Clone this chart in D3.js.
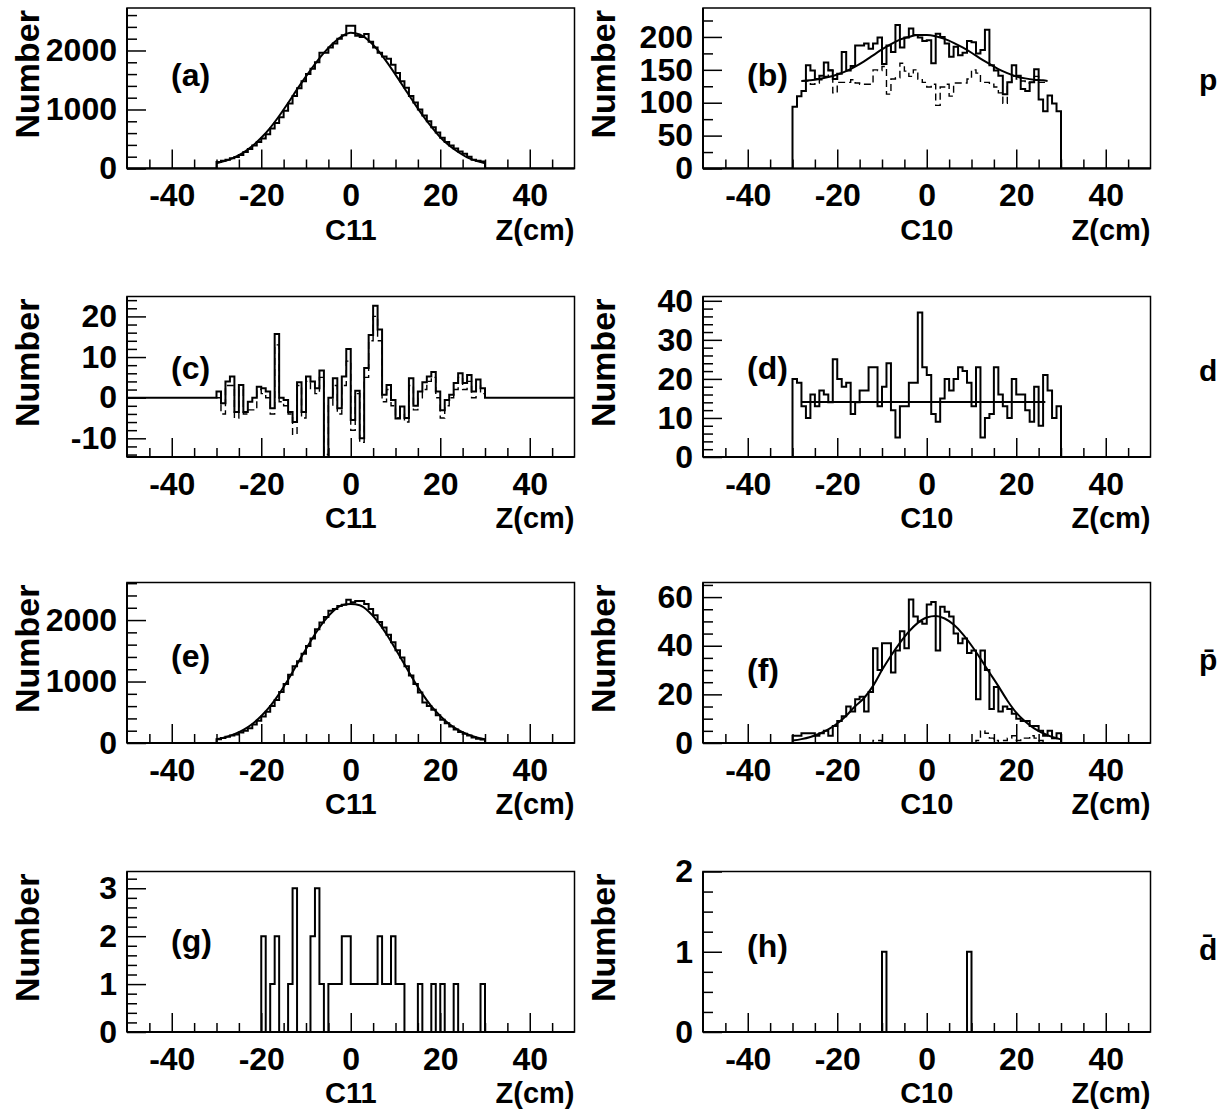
<!DOCTYPE html>
<html><head><meta charset="utf-8">
<script src="https://cdn.jsdelivr.net/npm/d3@7/dist/d3.min.js"></script>
<style>html,body{margin:0;padding:0;background:#fff;} svg{display:block;}</style>
</head><body>
<svg id="chart" width="1223" height="1118"></svg>
<script>
// ---------------- data ----------------
const zDomain = [-50, 50];
const xTickLabels = [-40, -20, 0, 20, 40];
const xMinorStep = 5;
const detectorNames = ["C11", "C10"];
const axisUnit = "Z(cm)";
const yTitle = "Number";
const particleNames = ["p", "d", "p\u0304", "d\u0304"];
const panelLabels = ["(a)", "(b)", "(c)", "(d)", "(e)", "(f)", "(g)", "(h)"];

// (a) C11, p
const aYRange = [0, 2720];
const aYTicks = [0, 1000, 2000];
const aYMinor = 200;
const aLo = -30;
const aCounts = [110,130,150,175,195,230,280,330,390,450, 510,580,680,770,870,980,1100,1230,1360,1480,
  1600,1690,1800,1960,1960,2050,2120,2200,2260,2420, 2420,2250,2230,2280,2150,2050,1960,1900,1860,1760,
  1620,1480,1370,1230,1120,1000,900,800,700,610, 520,450,390,340,290,250,200,150,130,120];
const aFitZ = [-30,-28,-26,-24,-22,-20,-18,-16,-14,-12,-10,-8,-6,-4,-2,0,2,4,6,8,10,12,14,16,18,20,22,24,26,28,30];
const aFitV = [90,130,190,270,380,520,690,890,1110,1340,1560,1770,1960,2120,2240,2300,2270,2170,2010,1810,1590,1360,1130,910,710,530,390,280,190,130,90];

// (b) C10, p
const bYRange = [0, 244];
const bYTicks = [0, 50, 100, 150, 200];
const bYMinor = 25;
const bLo = -30;
const bCounts = [94,110,118,157,149,136,141,161,149,136, 144,177,149,156,187,187,190,182,190,199,
  159,187,177,218,184,199,213,203,199,194, 195,160,205,200,190,170,185,172,176,194,
  192,175,180,211,157,149,141,113,131,157, 141,121,118,131,151,105,87,111,99,87];
const bDashLo = -28;
const bDashed = [133,133,128,130,135,140,150,115,131,131, 131,135,130,128,128,128,150,149,155,113,
  136,138,160,148,140,150,136,131,124,128, 96,124,128,110,130,130,130,136,150,145,
  131,131,128,124,115,99,131,140,136,133, 130,131,140,131,131];
const bFitZ = [-28,-26,-24,-22,-20,-18,-16,-14,-12,-10,-8,-6,-4,-2,0,2,4,6,8,10,12,14,16,18,20,22,24,26,27];
const bFitV = [133,134,136,139,143,148,155,163,172,181,189,196,200,203,203,201,197,191,184,176,167,159,151,145,140,137,135,134,133];

// (c) C11, d
const cYRange = [-14.6, 24.9];
const cYTicks = [-10, 0, 10, 20];
const cYMinor = 2;
const cLo = -30;
const cCounts = [1.5,-1.4,4,5.2,-3.5,3.1,-3.5,-1,0,2.7, 2.3,1.5,-2.6,15.7,0,-0.6,-3.5,-6,3.8,-3.5,
  5.2,4,2.3,6.7,-17,0,4.8,-2.6,5.2,12, -5.5,1.7,-10,7.3,15.4,22.6,16.8,0.7,3.1,-0.6,
  -5.1,-2.2,-5,4.8,-2,1.5,3.8,5.2,6.3,1.5, -3.1,-0.6,0.7,3.6,6,3.6,5.6,1.5,4.5,2.3];
const cDashLo = -30;
const cDashed = [0,-4,3,3,-5,2,-4,-3,-3,2, 1,0,-4,13,-1,-2,-4,-9,3,-5,
  4,2,1,5,-14,-2,3,-4,3,9, -8,1,-11,5,14,20,14,-1,2,-2,
  -5,-4,-6,3,-3,0,2,4,5,0, -5,-2,0,2,5,2,4,0,3,1];

// (d) C10, d
const dYRange = [0, 41.1];
const dYTicks = [0, 10, 20, 30, 40];
const dYMinor = 2;
const dLo = -30;
const dCounts = [20,19,13,10,16,13,17,16,14,25, 20,18,19,11,14,17,17,23,23,13,
  18,24,12,5,13,13,19,19,37,23, 21,11,9,15,20,17,20,23,22,19,
  13,23,5,10,11,23,16,13,10,20, 16,16,12,9,18,8,21,17,10,13];
const dFitZ = [-28, 26.5];
const dFitV = [14.1, 14.1];

// (e) C11, pbar
const eYRange = [0, 2611];
const eYTicks = [0, 1000, 2000];
const eYMinor = 200;
const eLo = -30;
const eCounts = [60,80,100,120,140,170,200,240,300,360, 430,510,600,700,830,960,1110,1250,1330,1450,
  1580,1700,1850,1960,2050,2150,2180,2230,2250,2330, 2290,2310,2310,2260,2180,2080,1970,1880,1760,1640,
  1510,1390,1250,1100,960,820,660,600,540,450, 380,320,270,220,180,150,120,90,70,55];
const eFitZ = [-30,-28,-26,-24,-22,-20,-18,-16,-14,-12,-10,-8,-6,-4,-2,0,2,4,6,8,10,12,14,16,18,20,22,24,26,28,30];
const eFitV = [60,95,145,215,310,440,600,800,1030,1280,1530,1770,1980,2140,2240,2260,2240,2140,1980,1770,1530,1280,1030,800,600,440,310,215,145,95,60];

// (f) C10, pbar
const fYRange = [0, 66];
const fYTicks = [0, 20, 40, 60];
const fYMinor = 5;
const fLo = -30;
const fCounts = [3,3,4,4,4,3,4,5,3,7, 9,11,15,13,18,19,13,21,39,30,
  41,41,29,38,46,39,59,52,50,49, 57,58,38,56,54,52,45,41,43,37,
  38,18,38,30,14,23,13,15,14,12, 10,9,9,7,7,5,3,5,2,4];
const fDashLo = -30;
const fDashed = [0,0,0,0,0,0,0,0,0,0, 0,0,0,0,0,0,0,0,1,1,
  0,0,0,0,0,0,0,0,0,0, 0,0,0,0,0,0,0,0,0,0,
  0,1,5,4,2,1,0,1,2,3, 1,2,2,3,2,1,0,0,0,0];
const fFitZ = [-30,-28,-26,-24,-22,-20,-18,-16,-14,-12,-10,-8,-6,-4,-2,0,2,4,6,8,10,12,14,16,18,20,22,24,26,28,30];
const fFitV = [1.0,1.6,2.5,3.8,5.6,8.0,11.2,15.1,18.5,23.5,30.0,35.9,41.2,45.8,49.4,51.6,52.2,51.2,48.7,44.9,40.1,34.7,29.0,23.4,17.5,12.5,8.8,6.0,4.0,2.5,1.5];

// (g) C11, dbar
const gYRange = [0, 3.35];
const gYTicks = [0, 1, 2, 3];
const gYMinor = 0.2;
const gLo = -20;
const gCounts = [2,0,1,2,0,0,1,3,0,0, 0,2,3,1,0,1,1,1,2,2,
  1,1,1,1,1,1,2,1,1,2, 1,1,0,0,0,1,0,0,1,0,
  1,0,0,1,0,0,0,0,0,1];

// (h) C10, dbar
const hYRange = [0, 2];
const hYTicks = [0, 1, 2];
const hYMinor = 0.25;
const hBins = [-10, 9];
const hCounts = [1, 1];

// ---------------- layout / style ----------------
const FONT = "'Liberation Sans', Arial, Helvetica, sans-serif";
const colX = [127, 703];
const frameW = 447.5;
const rowY = [8, 296.5, 582.5, 871.5];
const frameH = 160.5;
const labelBase = [78, 78, 82, 82, 84, 98, 80, 85];
const particleBase = [90, 381, 670, 960];

function sparseToDense(bins, counts) {
  const lo = d3.min(bins), hi = d3.max(bins);
  const arr = d3.range(lo, hi + 1).map(() => 0);
  bins.forEach((b, i) => { arr[b - lo] = counts[i]; });
  return { lo: lo, v: arr };
}
const hDense = sparseToDense(hBins, hCounts);

const panels = [
  { col: 0, row: 0, yRange: aYRange, yTicks: aYTicks, yMinor: aYMinor, solid: { lo: aLo, v: aCounts }, fit: { z: aFitZ, v: aFitV } },
  { col: 1, row: 0, yRange: bYRange, yTicks: bYTicks, yMinor: bYMinor, solid: { lo: bLo, v: bCounts }, dashed: { lo: bDashLo, v: bDashed }, fit: { z: bFitZ, v: bFitV } },
  { col: 0, row: 1, yRange: cYRange, yTicks: cYTicks, yMinor: cYMinor, solid: { lo: cLo, v: cCounts }, dashed: { lo: cDashLo, v: cDashed } },
  { col: 1, row: 1, yRange: dYRange, yTicks: dYTicks, yMinor: dYMinor, solid: { lo: dLo, v: dCounts }, fit: { z: dFitZ, v: dFitV } },
  { col: 0, row: 2, yRange: eYRange, yTicks: eYTicks, yMinor: eYMinor, solid: { lo: eLo, v: eCounts }, fit: { z: eFitZ, v: eFitV } },
  { col: 1, row: 2, yRange: fYRange, yTicks: fYTicks, yMinor: fYMinor, solid: { lo: fLo, v: fCounts }, dashed: { lo: fDashLo, v: fDashed }, fit: { z: fFitZ, v: fFitV } },
  { col: 0, row: 3, yRange: gYRange, yTicks: gYTicks, yMinor: gYMinor, solid: { lo: gLo, v: gCounts } },
  { col: 1, row: 3, yRange: hYRange, yTicks: hYTicks, yMinor: hYMinor, solid: hDense }
];

const svg = d3.select('#chart');
svg.append('rect').attr('width', 1223).attr('height', 1118).attr('fill', '#fff');

function stepPath(x, y, lo, counts, pad) {
  const bins = [];
  if (pad) for (let b = zDomain[0]; b < lo; b++) bins.push([b, 0]);
  counts.forEach((v, i) => bins.push([lo + i, v]));
  if (pad) for (let b = lo + counts.length; b < zDomain[1]; b++) bins.push([b, 0]);
  let d = '';
  bins.forEach(([b, v], i) => {
    d += (i === 0 ? `M${x(b)},${y(v)}` : `V${y(v)}`) + `H${x(b + 1)}`;
  });
  return d;
}

const fmt = d => String(d);

panels.forEach((p, i) => {
  const x0 = colX[p.col], y0 = rowY[p.row];
  const g = svg.append('g').attr('transform', `translate(${x0},${y0})`);
  const x = d3.scaleLinear().domain(zDomain).range([0, frameW]);
  const y = d3.scaleLinear().domain(p.yRange).range([frameH, 0]);

  const clipId = 'clip' + i;
  g.append('clipPath').attr('id', clipId).append('rect').attr('width', frameW).attr('height', frameH);
  const plot = g.append('g').attr('clip-path', `url(#${clipId})`);

  if (p.dashed) {
    plot.append('path').attr('d', stepPath(x, y, p.dashed.lo, p.dashed.v, false))
      .attr('fill', 'none').attr('stroke', '#000').attr('stroke-width', 1.4)
      .attr('stroke-dasharray', '7,4');
  }
  plot.append('path').attr('d', stepPath(x, y, p.solid.lo, p.solid.v, true))
    .attr('fill', 'none').attr('stroke', '#000').attr('stroke-width', 2)
    .attr('stroke-linejoin', 'miter');
  if (p.fit) {
    plot.append('path').datum(d3.zip(p.fit.z, p.fit.v))
      .attr('d', d3.line().x(d => x(d[0])).y(d => y(d[1])).curve(d3.curveMonotoneX))
      .attr('fill', 'none').attr('stroke', '#000').attr('stroke-width', 2);
  }

  // axes
  const styleAxis = sel => {
    sel.select('.domain').remove();
    sel.selectAll('.tick line').attr('stroke', '#000').attr('stroke-width', 1.5);
    sel.attr('font-family', FONT).attr('font-size', 32).attr('font-weight', 'bold');
    sel.selectAll('.tick text').attr('fill', '#000');
  };
  const xMinorVals = d3.range(zDomain[0] + xMinorStep, zDomain[1], xMinorStep).filter(v => !xTickLabels.includes(v));
  g.append('g').attr('transform', `translate(0,${frameH})`)
    .call(d3.axisBottom(x).tickValues(xMinorVals).tickSize(-9).tickFormat(() => ''))
    .call(styleAxis);
  g.append('g').attr('transform', `translate(0,${frameH})`)
    .call(d3.axisBottom(x).tickValues(xTickLabels).tickSize(-19).tickPadding(15).tickFormat(fmt))
    .call(styleAxis);

  const step = p.yMinor;
  const yMinorVals = d3.range(Math.ceil(p.yRange[0] / step - 1e-9), Math.floor(p.yRange[1] / step + 1e-9) + 1)
    .map(k => +(k * step).toFixed(6))
    .filter(v => !p.yTicks.some(t => Math.abs(t - v) < 1e-6));
  g.append('g')
    .call(d3.axisLeft(y).tickValues(yMinorVals).tickSize(-10).tickFormat(() => ''))
    .call(styleAxis);
  g.append('g')
    .call(d3.axisLeft(y).tickValues(p.yTicks).tickSize(-19).tickPadding(10).tickFormat(fmt))
    .call(styleAxis);

  // frame
  g.append('rect').attr('width', frameW).attr('height', frameH)
    .attr('fill', 'none').attr('stroke', '#000').attr('stroke-width', 1.5);
  g.append('line').attr('x1', 0).attr('x2', frameW).attr('y1', frameH).attr('y2', frameH)
    .attr('stroke', '#000').attr('stroke-width', 2.2);
  g.append('line').attr('x1', 0).attr('x2', 0).attr('y1', 0).attr('y2', frameH)
    .attr('stroke', '#000').attr('stroke-width', 2);

  // titles
  g.append('text')
    .attr('transform', `translate(-88.5,2) rotate(-90)`)
    .attr('text-anchor', 'end')
    .attr('font-family', FONT).attr('font-size', 34).attr('font-weight', 'bold')
    .text(yTitle);
  g.append('text').attr('x', x(0)).attr('y', frameH + 71)
    .attr('text-anchor', 'middle')
    .attr('font-family', FONT).attr('font-size', 29).attr('font-weight', 'bold')
    .text(detectorNames[p.col]);
  g.append('text').attr('x', frameW).attr('y', frameH + 71)
    .attr('text-anchor', 'end')
    .attr('font-family', FONT).attr('font-size', 29).attr('font-weight', 'bold')
    .text(axisUnit);
  g.append('text').attr('x', 44).attr('y', labelBase[i])
    .attr('font-family', FONT).attr('font-size', 32).attr('font-weight', 'bold')
    .text(panelLabels[i]);
});

particleNames.forEach((name, r) => {
  svg.append('text').attr('x', 1199).attr('y', particleBase[r])
    .attr('font-family', FONT).attr('font-size', 30).attr('font-weight', 'bold')
    .text(name);
});
</script>
</body></html>
